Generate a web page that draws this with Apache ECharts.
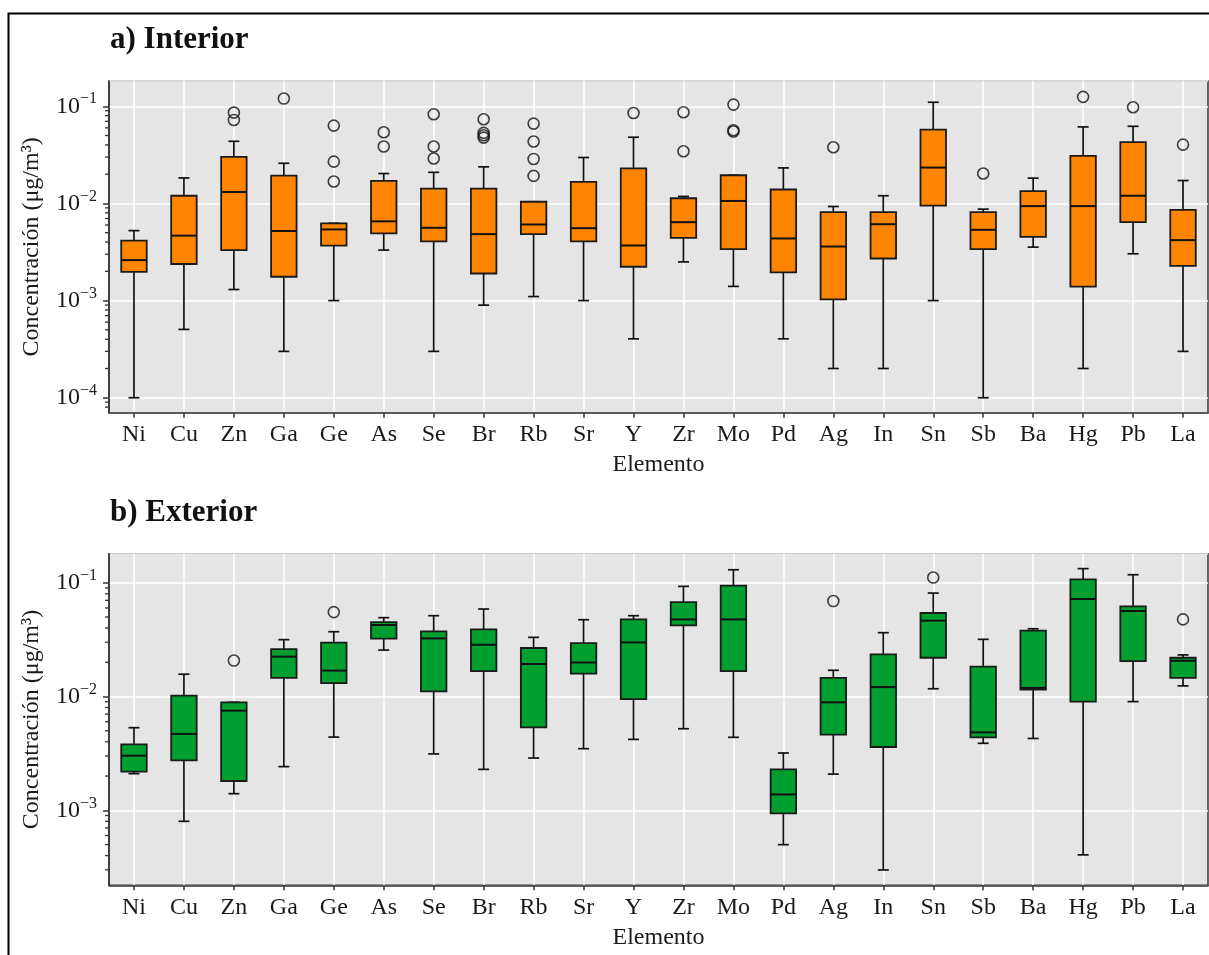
<!DOCTYPE html>
<html><head><meta charset="utf-8">
<script src="https://cdn.jsdelivr.net/npm/echarts@6/dist/echarts.min.js"></script>
<style>html,body{margin:0;padding:0;background:#fff;} #c{width:1209px;height:955px;}</style>
</head><body><div id="c"></div>
<script>
const elements = ['Ni','Cu','Zn','Ga','Ge','As','Se','Br','Rb','Sr','Y','Zr','Mo','Pd','Ag','In','Sn','Sb','Ba','Hg','Pb','La'];

// a) Interior
const intMin = [0.0001,0.000505,0.0013,0.0003,0.001,0.00331,0.0003,0.000897,0.0011,0.001,0.000404,0.0025,0.0014,0.000404,0.0002,0.0002,0.001,0.0001,0.00355,0.0002,0.00303,0.0003];
const intQ1  = [0.00197,0.00238,0.00331,0.00176,0.00367,0.00492,0.00406,0.0019,0.00483,0.00406,0.00223,0.00442,0.00338,0.00195,0.00103,0.00271,0.0095,0.00338,0.00453,0.00139,0.00641,0.00228];
const intMed = [0.00261,0.00466,0.0131,0.0052,0.0054,0.00654,0.00561,0.00483,0.00607,0.00556,0.00369,0.00641,0.0106,0.00436,0.0036,0.00611,0.0234,0.00535,0.00938,0.00938,0.012,0.00419];
const intQ3  = [0.00414,0.012,0.0301,0.0193,0.00624,0.0171,0.0142,0.0142,0.0104,0.0167,0.023,0.0113,0.0195,0.0139,0.00813,0.00813,0.0575,0.00813,0.0134,0.0308,0.0427,0.00859];
const intMax = [0.00525,0.0183,0.0436,0.0259,0.00624,0.0203,0.0209,0.0238,0.0104,0.0297,0.048,0.0118,0.0195,0.0232,0.0093,0.012,0.11,0.00873,0.0182,0.0613,0.0622,0.0172];
const intOutlierElement = ['Zn','Zn','Ga','Ge','Ge','Ge','As','As','Se','Se','Se','Br','Br','Br','Br','Rb','Rb','Rb','Rb','Y','Zr','Zr','Mo','Mo','Mo','Ag','Sb','Hg','Pb','La'];
const intOutlierValue   = [0.0861,0.0723,0.12,0.0632,0.0269,0.0168,0.054,0.0385,0.0827,0.0385,0.029,0.0735,0.0532,0.0503,0.0476,0.0663,0.0434,0.0287,0.0192,0.0853,0.0868,0.0344,0.104,0.0567,0.0549,0.0379,0.0203,0.125,0.0977,0.0403];

// b) Exterior
const extMin = [0.0021,0.0008,0.0014,0.00242,0.0044,0.0256,0.00313,0.00229,0.00288,0.00348,0.0042,0.00521,0.00438,0.000499,0.00208,0.000299,0.0117,0.00388,0.00428,0.000406,0.00902,0.0124];
const extQ1  = [0.00219,0.00275,0.00181,0.0146,0.0131,0.0322,0.0111,0.0167,0.00536,0.0159,0.0095,0.0422,0.0167,0.00094,0.00462,0.0036,0.0219,0.00438,0.0115,0.00902,0.0205,0.0146];
const extMed = [0.00302,0.00469,0.00751,0.0224,0.0169,0.0425,0.0324,0.0285,0.0193,0.0199,0.0299,0.0476,0.0476,0.00138,0.00889,0.0121,0.0464,0.00484,0.0119,0.0719,0.0564,0.0206];
const extQ3  = [0.0038,0.0102,0.00889,0.0261,0.0297,0.0451,0.0373,0.0389,0.0267,0.0295,0.0476,0.0676,0.0941,0.00229,0.0146,0.0235,0.0542,0.0183,0.0379,0.107,0.0619,0.0219];
const extMax = [0.00532,0.0157,0.00889,0.0316,0.0371,0.0493,0.0513,0.0587,0.0331,0.0473,0.0513,0.0929,0.13,0.00319,0.017,0.0364,0.0811,0.0318,0.0394,0.133,0.1175,0.0232];
const extOutlierElement = ['Zn','Ge','Ag','Sn','La'];
const extOutlierValue   = [0.0207,0.0552,0.069,0.111,0.0476];

// minor tick values of the logarithmic y axes
const minorTickValues = [0.00008,0.00009,
  0.0002,0.0003,0.0004,0.0005,0.0006,0.0007,0.0008,0.0009,
  0.002,0.003,0.004,0.005,0.006,0.007,0.008,0.009,
  0.02,0.03,0.04,0.05,0.06,0.07,0.08,0.09];

const FONT = "'Liberation Serif','DejaVu Serif',serif";
const ORANGE = '#ff8500';
const GREEN = '#009f30';

function boxData(mn, q1, md, q3, mx) {
  return elements.map((e, i) => [i, mn[i], q1[i], md[i], q3[i], mx[i]]);
}
function outlierData(els, vals) {
  return els.map((e, i) => [elements.indexOf(e), vals[i]]);
}
function makeRender(fill) {
  return function (params, api) {
    const x = api.value(0);
    const pMin = api.coord([x, api.value(1)]);
    const pQ1 = api.coord([x, api.value(2)]);
    const pMed = api.coord([x, api.value(3)]);
    const pQ3 = api.coord([x, api.value(4)]);
    const pMax = api.coord([x, api.value(5)]);
    const band = api.size([1, 0])[0];
    const bw = band * 0.51, cw = band * 0.22;
    const cx = pMed[0];
    const ls = { stroke: '#111', lineWidth: 1.7 };
    return {
      type: 'group',
      children: [
        { type: 'line', shape: { x1: cx, y1: pQ3[1], x2: cx, y2: pMax[1] }, style: ls },
        { type: 'line', shape: { x1: cx, y1: pQ1[1], x2: cx, y2: pMin[1] }, style: ls },
        { type: 'line', shape: { x1: cx - cw / 2, y1: pMax[1], x2: cx + cw / 2, y2: pMax[1] }, style: ls },
        { type: 'line', shape: { x1: cx - cw / 2, y1: pMin[1], x2: cx + cw / 2, y2: pMin[1] }, style: ls },
        { type: 'rect', shape: { x: cx - bw / 2, y: pQ3[1], width: bw, height: pQ1[1] - pQ3[1] }, style: { fill: fill, stroke: '#1a1a1a', lineWidth: 1.8 } },
        { type: 'line', shape: { x1: cx - bw / 2, y1: pMed[1], x2: cx + bw / 2, y2: pMed[1] }, style: { stroke: '#111', lineWidth: 2 } }
      ]
    };
  };
}
function renderMinorTick(params, api) {
  const cs = params.coordSys;
  const p = api.coord([0, api.value(1)]);
  if (p[1] < cs.y - 0.5 || p[1] > cs.y + cs.height + 0.5) return null;
  return { type: 'line', shape: { x1: cs.x - 4, y1: p[1], x2: cs.x, y2: p[1] }, style: { stroke: '#333', lineWidth: 1.3 } };
}

function yLabelFormatter(v) {
  const e = Math.round(Math.log10(v));
  return '{b|10}{s|\u2212' + Math.abs(e) + '}';
}

function xAxisFor(gi) {
  return {
    type: 'category', gridIndex: gi, data: elements,
    name: 'Elemento', nameLocation: 'middle', nameGap: 40,
    nameTextStyle: { fontFamily: FONT, fontSize: 24, color: '#1a1a1a' },
    axisLine: { show: true, lineStyle: { color: '#333', width: 1.5 } },
    axisTick: { show: true, alignWithLabel: true, length: 5, lineStyle: { color: '#333', width: 1.5 } },
    axisLabel: { fontFamily: FONT, fontSize: 24, color: '#1a1a1a', margin: 10, interval: 0 },
    splitLine: { show: true, alignWithLabel: true, lineStyle: { color: '#ffffff', width: 1.5 } }
  };
}
function yAxisFor(gi, lo, hi) {
  return {
    type: 'log', logBase: 10, gridIndex: gi,
    min: Math.pow(10, lo), max: Math.pow(10, hi),
    name: 'Concentración (μg/m³)', nameLocation: 'middle', nameGap: 65,
    nameTextStyle: { fontFamily: FONT, fontSize: 24, color: '#1a1a1a' },
    axisLine: { show: true, lineStyle: { color: '#333', width: 1.5 } },
    axisTick: { show: true, length: 6, lineStyle: { color: '#333', width: 1.5 } },
    minorTick: { show: false },
    axisLabel: {
      showMinLabel: false, showMaxLabel: false, margin: 12,
      formatter: yLabelFormatter,
      rich: {
        b: { fontFamily: FONT, fontSize: 24, color: '#1a1a1a' },
        s: { fontFamily: FONT, fontSize: 16, color: '#1a1a1a', padding: [0, 0, 14, 0] }
      }
    },
    splitLine: { show: true, lineStyle: { color: '#ffffff', width: 1.5 } }
  };
}

const chart = echarts.init(document.getElementById('c'), null, { renderer: 'canvas' });
const minorData = minorTickValues.map(v => [0, v]);
chart.setOption({
  backgroundColor: '#ffffff',
  animation: false,
  title: [
    { text: 'a) Interior', left: 110, top: 24, padding: 0, textStyle: { fontFamily: FONT, fontSize: 31, fontWeight: 'bold', color: '#111' } },
    { text: 'b) Exterior', left: 110, top: 497, padding: 0, textStyle: { fontFamily: FONT, fontSize: 31, fontWeight: 'bold', color: '#111' } }
  ],
  graphic: [
    { type: 'rect', silent: true, z: 100, shape: { x: 8.5, y: 13.5, width: 1300, height: 1100 }, style: { fill: 'none', stroke: '#000', lineWidth: 2 } }
  ],
  grid: [
    { left: 109, top: 81, width: 1099, height: 331.7, show: true, backgroundColor: '#e5e5e5', borderColor: '#333', borderWidth: 1.5, containLabel: false, outerBoundsMode: 'none' },
    { left: 109, top: 553.7, width: 1099, height: 331.6, show: true, backgroundColor: '#e5e5e5', borderColor: '#333', borderWidth: 1.5, containLabel: false, outerBoundsMode: 'none' }
  ],
  xAxis: [xAxisFor(0), xAxisFor(1)],
  yAxis: [yAxisFor(0, -4.154, -0.74), yAxisFor(1, -3.659, -0.745)],
  series: [
    { type: 'custom', xAxisIndex: 0, yAxisIndex: 0, renderItem: makeRender(ORANGE), encode: { x: 0, y: [1, 2, 3, 4, 5] }, data: boxData(intMin, intQ1, intMed, intQ3, intMax), z: 3 },
    { type: 'scatter', xAxisIndex: 0, yAxisIndex: 0, symbol: 'circle', symbolSize: 11, itemStyle: { color: 'rgba(0,0,0,0)', borderColor: '#111', borderWidth: 1.6 }, data: outlierData(intOutlierElement, intOutlierValue), z: 4 },
    { type: 'custom', xAxisIndex: 0, yAxisIndex: 0, renderItem: renderMinorTick, clip: false, silent: true, encode: { x: 0, y: 1 }, data: minorData, z: 5 },
    { type: 'custom', xAxisIndex: 1, yAxisIndex: 1, renderItem: makeRender(GREEN), encode: { x: 0, y: [1, 2, 3, 4, 5] }, data: boxData(extMin, extQ1, extMed, extQ3, extMax), z: 3 },
    { type: 'scatter', xAxisIndex: 1, yAxisIndex: 1, symbol: 'circle', symbolSize: 11, itemStyle: { color: 'rgba(0,0,0,0)', borderColor: '#111', borderWidth: 1.6 }, data: outlierData(extOutlierElement, extOutlierValue), z: 4 },
    { type: 'custom', xAxisIndex: 1, yAxisIndex: 1, renderItem: renderMinorTick, clip: false, silent: true, encode: { x: 0, y: 1 }, data: minorData, z: 5 }
  ]
});
</script></body></html>
